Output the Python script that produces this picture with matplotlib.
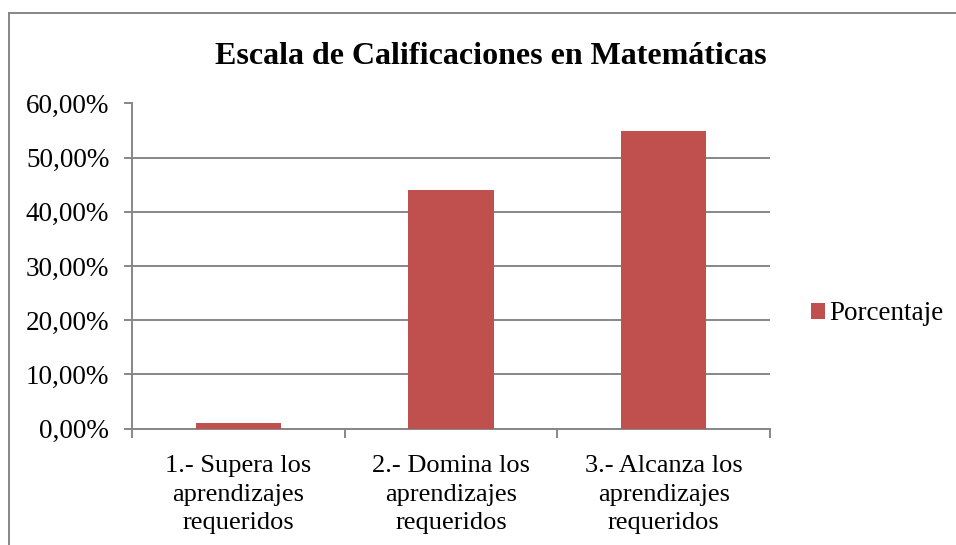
import matplotlib
matplotlib.use("Agg")
import matplotlib.pyplot as plt
from matplotlib.lines import Line2D
from matplotlib.patches import Patch
from matplotlib.ticker import FuncFormatter

categories = [
    "1.- Supera los\naprendizajes\nrequeridos",
    "2.- Domina los\naprendizajes\nrequeridos",
    "3.- Alcanza los\naprendizajes\nrequeridos",
]
porcentaje = [0.011, 0.44, 0.55]
y_ticks = [0.0, 0.1, 0.2, 0.3, 0.4, 0.5, 0.6]

bar_color = "#C0504D"
grid_color = "#878787"
W, H = 956, 545

plt.rcParams["font.family"] = ["Liberation Serif", "DejaVu Serif"]

fig = plt.figure(figsize=(W / 100, H / 100), dpi=100)
ax = fig.add_axes([132 / W, 1 - 428.5 / H, (770 - 132) / W, (428.5 - 103.5) / H])

x = list(range(len(categories)))
ax.bar(x, porcentaje, width=0.4, color=bar_color, zorder=3)

ax.set_xlim(-0.5, len(categories) - 0.5)
ax.set_ylim(0, 0.6)
ax.set_yticks(y_ticks)
ax.yaxis.set_major_formatter(FuncFormatter(lambda v, _: f"{v * 100:.2f}%".replace(".", ",")))
ax.grid(axis="y", color=grid_color, linewidth=1.4, zorder=0)
ax.tick_params(axis="y", length=5.8, width=1.4, color=grid_color, labelsize=19.5, pad=10.5)

ax.set_xticks(x)
ax.set_xticklabels(categories, fontsize=19, linespacing=1.4)
ax.set_xticks([-0.5, 0.5, 1.5, 2.5], minor=True)
ax.tick_params(axis="x", which="major", length=0, pad=19)
ax.tick_params(axis="x", which="minor", length=6.8, width=1.4, color=grid_color)

for side in ["top", "right"]:
    ax.spines[side].set_visible(False)
for side in ["left", "bottom"]:
    ax.spines[side].set_color(grid_color)
    ax.spines[side].set_linewidth(1.4)

fig.text(491 / W, 1 - 56 / H, "Escala de Calificaciones en Matemáticas",
         ha="center", va="center", fontsize=23, fontweight="bold")

handles = [Patch(facecolor=bar_color, label="Porcentaje")]
fig.legend(handles=handles, loc="center left", bbox_to_anchor=(797 / W, 1 - 314 / H),
           frameon=False, fontsize=19.5, borderpad=0, handlelength=0.55,
           handleheight=0.55, handletextpad=0.15)

# chart area border (only top and left edges visible)
fig.add_artist(Line2D([9 / W, 9 / W], [0, 1 - 13 / H], color=grid_color, linewidth=1.4))
fig.add_artist(Line2D([9 / W, 1], [1 - 13 / H, 1 - 13 / H], color=grid_color, linewidth=1.4))

fig.savefig("out.png", dpi=100)
